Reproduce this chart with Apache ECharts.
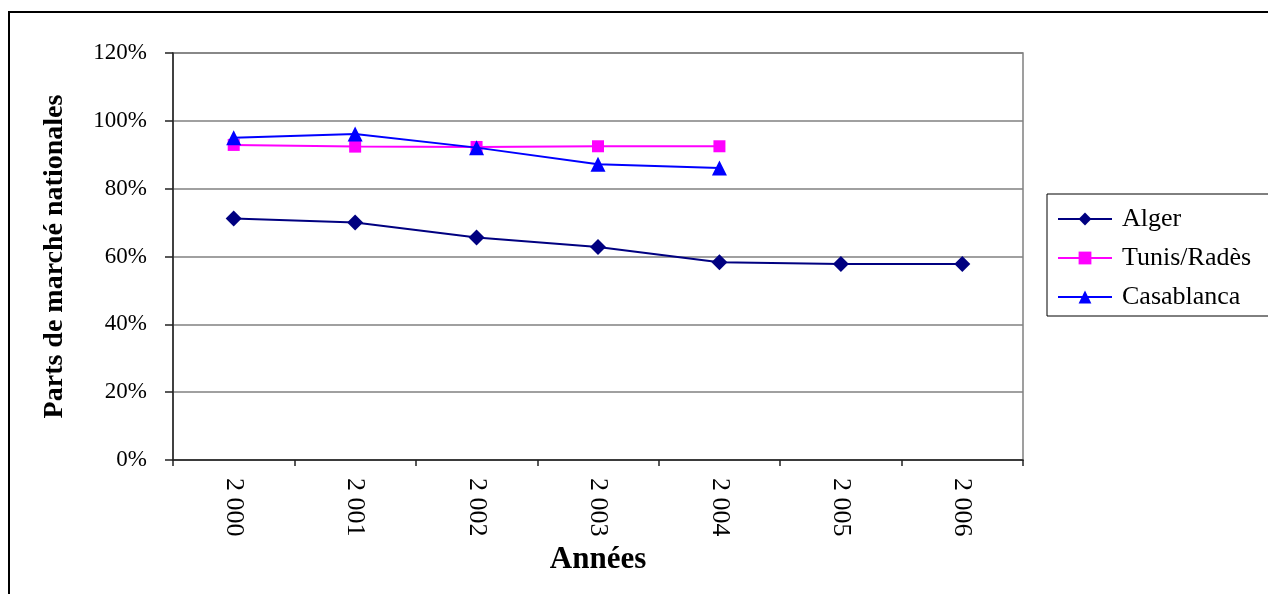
<!DOCTYPE html>
<html>
<head>
<meta charset="utf-8">
<script src="https://cdn.jsdelivr.net/npm/echarts@6/dist/echarts.min.js"></script>
<style>
  html, body { margin: 0; padding: 0; background: #fff; }
  #chart { width: 1268px; height: 594px; }
</style>
</head>
<body>
<div id="chart"></div>
<script>
// Years on the horizontal axis, shown with a thousands space
const years = ['2 000', '2 001', '2 002', '2 003', '2 004', '2 005', '2 006'];

// National market share per port (fraction of 1)
const alger      = [0.712, 0.700, 0.656, 0.628, 0.583, 0.578, 0.578];
const tunisRades = [0.929, 0.924, 0.923, 0.925, 0.925, null, null];
const casablanca = [0.950, 0.961, 0.921, 0.872, 0.861, null, null];

// Value axis ticks
const yTicks = [0, 0.2, 0.4, 0.6, 0.8, 1.0, 1.2];

const serif = '"Liberation Serif", "Times New Roman", serif';

const chart = echarts.init(document.getElementById('chart'), null, { renderer: 'canvas' });

chart.setOption({
  backgroundColor: '#ffffff',
  animation: false,
  textStyle: { fontFamily: serif, color: '#000' },
  graphic: [
    {
      type: 'rect',
      shape: { x: 9, y: 12, width: 1300, height: 620 },
      style: { fill: 'none', stroke: '#000', lineWidth: 2 },
      silent: true,
      z: -1
    }
  ],
  grid: {
    left: 173, right: 245, top: 53, bottom: 134,
    show: true, borderColor: '#808080', borderWidth: 1.5, backgroundColor: '#fff'
  },
  legend: {
    orient: 'vertical',
    left: 1047,
    top: 194,
    padding: [12, 24, 6, 10],
    itemWidth: 54,
    itemHeight: 16,
    itemGap: 13,
    borderColor: '#000',
    borderWidth: 1,
    textStyle: { fontFamily: serif, fontSize: 26, color: '#000', padding: [0, 0, 0, 5] },
    data: ['Alger', 'Tunis/Radès', 'Casablanca']
  },
  xAxis: {
    type: 'category',
    data: years,
    boundaryGap: true,
    name: 'Années',
    nameLocation: 'middle',
    nameGap: 81,
    nameTextStyle: { fontFamily: serif, fontSize: 31, fontWeight: 'bold', color: '#000' },
    axisLine: { lineStyle: { color: '#222', width: 1.5 } },
    axisTick: { show: true, length: 6, lineStyle: { color: '#222', width: 1.5 } },
    axisLabel: { rotate: -90, margin: 18, fontSize: 26, color: '#000', fontFamily: serif }
  },
  yAxis: {
    type: 'value',
    min: yTicks[0],
    max: yTicks[yTicks.length - 1],
    interval: yTicks[1] - yTicks[0],
    name: 'Parts de marché nationales',
    nameLocation: 'middle',
    nameGap: 104,
    nameTextStyle: { fontFamily: serif, fontSize: 28, fontWeight: 'bold', color: '#000' },
    axisLine: { show: true, lineStyle: { color: '#222', width: 1.5 } },
    axisTick: { show: true, length: 8, lineStyle: { color: '#222', width: 1.5 } },
    axisLabel: {
      margin: 26, fontSize: 23, color: '#000', fontFamily: serif,
      formatter: v => Math.round(v * 100) + '%'
    },
    splitLine: { lineStyle: { color: '#808080', width: 1.5 } }
  },
  series: [
    {
      name: 'Alger', type: 'line', data: alger,
      color: '#000080',
      symbol: 'diamond', symbolSize: 16,
      lineStyle: { width: 2 }, z: 3
    },
    {
      name: 'Tunis/Radès', type: 'line', data: tunisRades,
      color: '#ff00ff',
      symbol: 'rect', symbolSize: 12,
      lineStyle: { width: 2 }, z: 4
    },
    {
      name: 'Casablanca', type: 'line', data: casablanca,
      color: '#0000ff',
      symbol: 'triangle', symbolSize: 15,
      lineStyle: { width: 2 }, z: 5
    }
  ]
});
</script>
</body>
</html>
